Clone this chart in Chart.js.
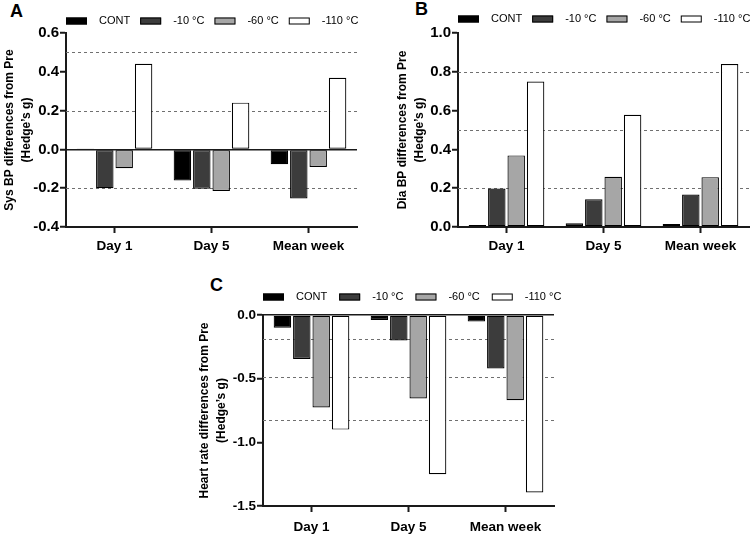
<!DOCTYPE html>
<html>
<head>
<meta charset="utf-8">
<script src="https://cdn.jsdelivr.net/npm/chart.js@4.4.0/dist/chart.umd.min.js"></script>
<style>
    body { margin: 0; background: #fff; }
    #wrap { position: relative; width: 750px; height: 534px; overflow: hidden; }
    .panel { position: absolute; }
    .letter { position: absolute; font: bold 18px "Liberation Sans", Arial, sans-serif; line-height: 18px; color: #000; }
</style>
</head>
<body>
<div id="wrap">
    <div class="letter" style="left:10px;top:2px">A</div>
    <div class="letter" style="left:415px;top:0px">B</div>
    <div class="letter" style="left:210px;top:276px">C</div>
    <canvas id="canvas-a" class="panel" width="370" height="262" style="left:0;top:0"></canvas>
    <canvas id="canvas-b" class="panel" width="370" height="262" style="left:380px;top:0"></canvas>
    <canvas id="canvas-c" class="panel" width="400" height="264" style="left:180px;top:270px"></canvas>
</div>
<script>
var categories = ['Day 1', 'Day 5', 'Mean week'];
var groups = ['CONT', '-10 °C', '-60 °C', '-110 °C'];
var groupColors = ['#000000', '#3c3c3c', '#a6a6a6', '#ffffff'];

// Sys BP (panel A)
var sysCont = [0.005, -0.16, -0.076];
var sys10 = [-0.20, -0.203, -0.253];
var sys60 = [-0.097, -0.214, -0.091];
var sys110 = [0.441, 0.241, 0.369];
var sysRefLines = [0.5, 0.2, -0.2];

// Dia BP (panel B)
var diaCont = [0.01, 0.019, 0.016];
var dia10 = [0.198, 0.143, 0.167];
var dia60 = [0.369, 0.259, 0.257];
var dia110 = [0.75, 0.578, 0.84];
var diaRefLines = [0.8, 0.5, 0.2];

// Heart rate (panel C)
var hrCont = [-0.10, -0.039, -0.052];
var hr10 = [-0.346, -0.20, -0.42];
var hr60 = [-0.726, -0.656, -0.669];
var hr110 = [-0.90, -1.25, -1.393];
var hrRefLines = [-0.19, -0.49, -0.825];

var fontFamily = '"Liberation Sans", Arial, Helvetica, sans-serif';
var axisColor = '#1a1a1a';

// dashed effect size lines, behind the bars
var refLines = {
    id: 'refLines',
    beforeDatasetsDraw: function (chart, args, opts) {
        var y = chart.scales.y;
        var area = chart.chartArea;
        var ctx = chart.ctx;
        ctx.save();
        ctx.strokeStyle = '#707070';
        ctx.lineWidth = 1;
        ctx.setLineDash([3, 3]);
        opts.values.forEach(function (v) {
            var py = Math.round(y.getPixelForValue(v)) + 0.5;
            ctx.beginPath();
            ctx.moveTo(area.left, py);
            ctx.lineTo(area.right, py);
            ctx.stroke();
        });
        ctx.restore();
    }
};

// legend row above the plot: wide flat boxes with a black outline
var boxLegend = {
    id: 'boxLegend',
    afterDraw: function (chart, args, opts) {
        var ctx = chart.ctx;
        var x = chart.chartArea.left;
        var y = opts.y;
        ctx.save();
        ctx.font = '11px ' + fontFamily;
        ctx.textBaseline = 'middle';
        chart.data.datasets.forEach(function (ds) {
            ctx.fillStyle = ds.backgroundColor;
            ctx.fillRect(x, y - 3.5, 21, 7);
            ctx.strokeStyle = '#000';
            ctx.lineWidth = 1;
            ctx.strokeRect(x + 0.5, y - 3, 20, 6);
            x += 21 + 12;
            ctx.fillStyle = '#000';
            ctx.fillText(ds.label, x, y);
            x += ctx.measureText(ds.label).width + opts.gap;
        });
        ctx.restore();
    }
};

function makePanel(id, series, opts) {
    return new Chart(document.getElementById(id), {
        type: 'bar',
        data: {
            labels: categories,
            datasets: groups.map(function (g, i) {
                return {
                    label: g,
                    data: series[i],
                    backgroundColor: groupColors[i],
                    borderColor: '#000',
                    borderWidth: 1.2,
                    borderSkipped: false,
                    categoryPercentage: 0.8,
                    barPercentage: 0.9
                };
            })
        },
        options: {
            responsive: false,
            animation: false,
            layout: { padding: opts.padding },
            plugins: {
                legend: { display: false },
                tooltip: { enabled: false },
                boxLegend: { y: opts.legendY, gap: opts.legendGap },
                refLines: { values: opts.refs }
            },
            scales: {
                x: {
                    grid: { offset: false, drawOnChartArea: false, tickLength: 6, tickColor: axisColor, tickWidth: 2 },
                    border: { color: axisColor, width: 2 },
                    ticks: { color: '#000', font: { family: fontFamily, weight: 'bold', size: opts.xFont }, padding: opts.xPad, maxRotation: 0 },
                    afterFit: function (scale) { scale.height = opts.xHeight; }
                },
                y: {
                    min: opts.min,
                    max: opts.max,
                    ticks: {
                        stepSize: opts.step,
                        color: '#000',
                        padding: 1,
                        font: { family: fontFamily, weight: 'bold', size: opts.yFont },
                        callback: function (v) { return Number(v).toFixed(1); }
                    },
                    grid: {
                        color: function (c) { return Math.abs(c.tick.value) < 1e-9 ? axisColor : 'rgba(0,0,0,0)'; },
                        lineWidth: 1.5,
                        tickColor: axisColor,
                        tickLength: 6,
                        tickWidth: 2
                    },
                    border: { color: axisColor, width: 2 },
                    title: {
                        display: true,
                        text: opts.title,
                        color: '#000',
                        font: { family: fontFamily, weight: 'bold', size: 12, lineHeight: 1.35 },
                        padding: { top: opts.titlePad, bottom: 0 }
                    },
                    afterFit: function (scale) { scale.width = opts.yWidth; }
                }
            }
        },
        plugins: [refLines, boxLegend]
    });
}

var chartA = makePanel('canvas-a', [sysCont, sys10, sys60, sys110], {
    padding: { top: 33, right: 13, bottom: 0, left: 0 },
    min: -0.4, max: 0.6, step: 0.2,
    title: ['Sys BP differences from Pre', '(Hedge\u2019s g)'],
    titlePad: 2, yWidth: 66, xHeight: 35, xPad: 5, legendY: 21, legendGap: 10,
    xFont: 13.5, yFont: 15,
    refs: sysRefLines
});

var chartB = makePanel('canvas-b', [diaCont, dia10, dia60, dia110], {
    padding: { top: 33, right: 1, bottom: 0, left: 0 },
    min: 0, max: 1.0, step: 0.2,
    title: ['Dia BP differences from Pre', '(Hedge\u2019s g)'],
    titlePad: 15, yWidth: 78, xHeight: 35, xPad: 5, legendY: 19, legendGap: 10,
    xFont: 13.5, yFont: 15,
    refs: diaRefLines
});

var chartC = makePanel('canvas-c', [hrCont, hr10, hr60, hr110], {
    padding: { top: 45, right: 26, bottom: 0, left: 0 },
    min: -1.5, max: 0, step: 0.5,
    title: ['Heart rate differences from Pre', '(Hedge\u2019s g)'],
    titlePad: 17, yWidth: 83, xHeight: 28, xPad: 7, legendY: 27, legendGap: 12,
    xFont: 13.5, yFont: 13.5,
    refs: hrRefLines
});
</script>
</body>
</html>
